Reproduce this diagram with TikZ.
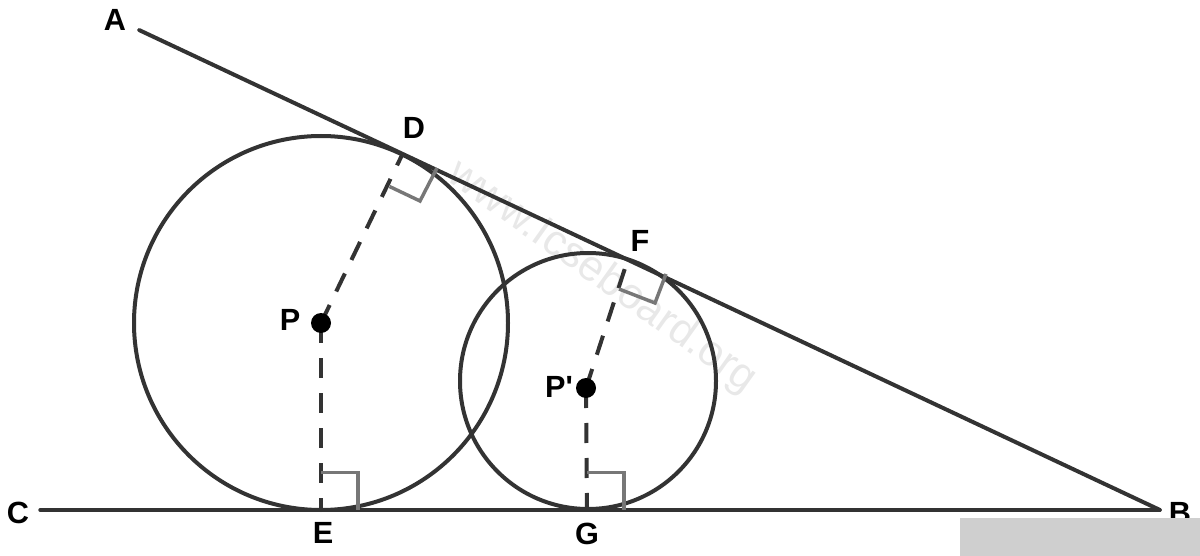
\documentclass[tikz,border=0pt]{standalone}
\usepackage{fontspec}
\setmainfont[Ligatures=TeXOff]{Liberation Sans}
\definecolor{ink}{HTML}{333333}
\definecolor{markgray}{HTML}{777777}
\definecolor{wm}{HTML}{E8E8E8}
\definecolor{patch}{HTML}{CFCFCF}
\tikzset{
  solidline/.style={draw=ink,line width=3pt},
  dashline/.style={draw=ink,line width=3pt,dash pattern=on 15pt off 11.25pt},
  rightmark/.style={draw=markgray,line width=2.6pt,line join=miter},
  lbl/.style={font=\bfseries\fontsize{23}{26}\selectfont,text=black,inner sep=0pt},
  centre/.style={circle,fill=black,inner sep=0pt,minimum size=15pt},
  pt/.style={inner sep=0pt,minimum size=0pt}
}
\begin{document}
\begin{tikzpicture}[x=0.75pt,y=-0.75pt]
\useasboundingbox (0,0) rectangle (1200,556);
\node[rotate=-35.5,text=wm,font=\fontsize{32.5}{36}\selectfont,inner sep=0pt] (wmark) at (602,277) {www.Icseboard.org};
\node[pt] (A) at (139,30) {};
\node[pt] (B) at (1160,510) {};
\node[pt] (C) at (40,510) {};
\node[pt] (D) at (403,153) {};
\node[pt] (E) at (321,510) {};
\node[pt] (F) at (627,262) {};
\node[pt] (G) at (587,510) {};
\node[pt] (c2) at (588,381) {};
\node[pt] (c1) at (321,323) {};
\draw[solidline] (c1) circle[radius=187];
\draw[solidline] (c2) circle[radius=128];
\draw[solidline,line cap=round] (A) -- (B);
\draw[solidline,line cap=round] (C) -- (B);
\node[pt] (Pc) at (321,323) {};
\node[pt] (Qc) at (586,388) {};
\draw[dashline] (Pc.center) -- (D.center);
\draw[dashline] (Qc.center) -- (F.center);
\draw[dashline] (Pc.center) -- (E.center);
\draw[dashline] (Qc.center) -- (G.center);
\node[centre] (P) at (321,323) {};
\node[centre] (Q) at (586,388) {};
\draw[rightmark] (389.5,186.5) -- (420,201) -- (437,168);
\draw[rightmark] (619,289) -- (655,303) -- (666,274);
\draw[rightmark] (321,472.5) -- (358,472.5) -- (358,510);
\draw[rightmark] (587,472.5) -- (624,472.5) -- (624,510);
\node[lbl] (la) at (115,20) {A};
\node[lbl] (lb) at (1180,513) {B};
\node[lbl] (lc) at (18,513) {C};
\node[lbl] (ld) at (414,128) {D};
\node[lbl] (le) at (323,533) {E};
\node[lbl] (lf) at (640,241) {F};
\node[lbl] (lg) at (587,534) {G};
\node[lbl] (lp) at (290,320) {P};
\node[lbl] (lq) at (559,387) {P'};
\fill[patch] (960,518) rectangle (1200,556);
\end{tikzpicture}
\end{document}
